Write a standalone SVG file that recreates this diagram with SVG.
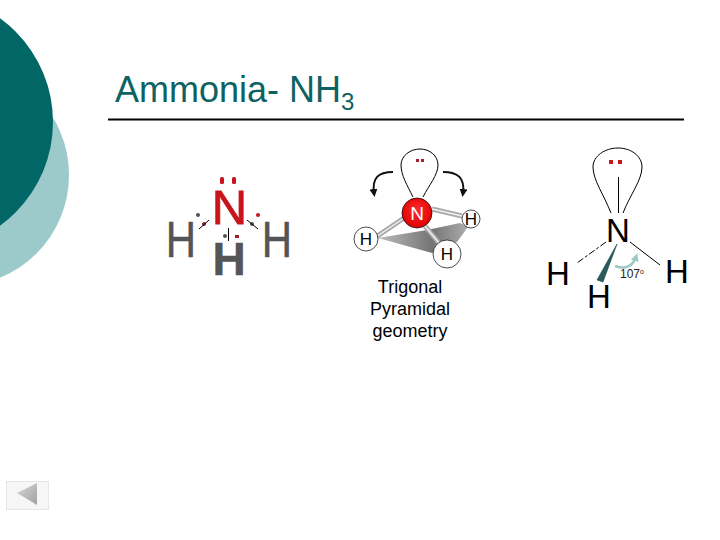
<svg xmlns="http://www.w3.org/2000/svg" width="720" height="540" viewBox="0 0 720 540">
<style>
text{font-family:"Liberation Sans",Arial,sans-serif}
.h{fill:#555;stroke:#555;stroke-width:.5}
.bl{fill:#000}
.ln{fill:none;stroke:#000;stroke-width:1}
.red{fill:#c8141c}
.atom{fill:#fff;stroke:#000;stroke-width:.7}
.bond{fill:none;stroke:#a8a8a8;stroke-width:5}
.bondh{fill:none;stroke:#f2f2f2;stroke-width:1.500}
</style>
<defs>
<linearGradient id="plane" x1="0" y1="0" x2="1" y2="0"><stop offset="0" stop-color="#bcbcbc"/><stop offset="0.6" stop-color="#757575"/><stop offset="1" stop-color="#adadad"/></linearGradient>
<radialGradient id="nball" cx="0.5" cy="0.4" r="0.6"><stop offset="0" stop-color="#ff2a2a"/><stop offset="1" stop-color="#e00000"/></radialGradient>
<linearGradient id="back" x1="0" y1="0" x2="1" y2="1"><stop offset="0" stop-color="#d8d8d8"/><stop offset="1" stop-color="#a0a0a0"/></linearGradient>
<marker id="ah" markerWidth="8" markerHeight="8" refX="4" refY="4" orient="auto" markerUnits="userSpaceOnUse"><path d="M0 0L8 4L0 8Z" fill="#111"/></marker>
<marker id="ta" markerWidth="8" markerHeight="8" refX="4" refY="4" orient="auto" markerUnits="userSpaceOnUse"><path d="M0 0L8 4L0 8Z" fill="#9cc8c8"/></marker>
</defs>
<rect width="720" height="540" fill="#fff"/>
<g id="background">
<circle cx="-42" cy="175" r="111" fill="#9ccaca"/>
<circle cx="-75" cy="122" r="128" fill="#006666"/>
</g>
<g id="title">
<text x="115" y="102" font-size="36" fill="#0f6262">Ammonia- NH<tspan font-size="24" dy="8">3</tspan></text>
<rect x="108" y="118.500" width="576" height="2" fill="#000"/>
</g>
<g id="lewis">
<g id="lewis-n"><text transform="translate(229.500 224)" text-anchor="middle" font-size="49" class="red" stroke="#c8141c" stroke-width=".8">N</text>
<rect x="220" y="177" width="4" height="7" rx="1.500" class="red"/><rect x="232" y="177" width="4" height="7" rx="1.500" class="red"/></g>
<g id="lewis-h1"><text transform="translate(181 257) scale(.84 1)" text-anchor="middle" font-size="50" class="h">H</text></g>
<g id="lewis-h2"><text transform="translate(277 257) scale(.84 1)" text-anchor="middle" font-size="50" class="h">H</text></g>
<g id="lewis-h3"><text x="229" y="275" text-anchor="middle" font-size="46" font-weight="700" class="h">H</text></g>
<circle cx="198" cy="215" r="2" fill="#555"/>
<circle cx="204" cy="224" r="2" fill="#a02030"/>
<circle cx="258" cy="215" r="2" fill="#c8141c"/>
<circle cx="252" cy="224" r="2" fill="#555"/>
<circle cx="225" cy="236" r="2" fill="#555"/>
<rect x="235" y="235" width="4" height="3" fill="#a02030"/>
</g>
<g id="plane">
<path d="M378 238L432 253L457 242L468 227L460 223L427 230Z" fill="url(#plane)"/>
</g>
<g id="connectors">
<path class="ln" d="M199 229L209 220"/>
<path class="ln" d="M247 220L258 229"/>
<path class="ln" d="M228.500 228V241"/>
<path class="ln" d="M413 197C407 185 401 175 401 165C401 156 410 149 420 149C430 149 438 156 438 165C438 175 429 185 423 197"/>
<path d="M393 172C378 172 372 178 374 193" fill="none" stroke="#111" stroke-width="2" marker-end="url(#ah)"/>
<path d="M443 172C458 172 465 178 463 193" fill="none" stroke="#111" stroke-width="2" marker-end="url(#ah)"/>
<path class="bond" d="M404 218L376 237"/><path class="bondh" d="M404 218L376 237"/>
<path class="bond" d="M432 209L462 216"/><path class="bondh" d="M432 209L462 216"/>
<path class="bond" d="M425 226L439 243"/><path class="bondh" d="M425 226L439 243"/>
<path class="ln" d="M611 213C604 195 593 180 593 167C593 156 605 148 618 148C631 148 642 156 642 167C642 180 630 195 623 213"/>
<path class="ln" d="M618.500 177V213"/>
<path class="ln" d="M606 242L577 263" stroke-dasharray="7 2 3 2"/>
<path class="ln" d="M630 242L660 265"/>
<path d="M617 244L597 280L603 282Z" fill="#2a5a5a" stroke="#1c4a4a" stroke-width=".6"/>
<path d="M615 266C625 270 633 266 636 257" fill="none" stroke="#9cc8c8" stroke-width="2.500" marker-end="url(#ta)"/>
</g>
<g id="ball-n"><circle class="atom" cx="417" cy="213" r="15" style="fill:url(#nball)"/><text x="417" y="220" text-anchor="middle" font-size="19" fill="#fff">N</text></g>
<g id="ball-h1"><circle class="atom" cx="366" cy="239" r="12"/><text x="366" y="245" text-anchor="middle" font-size="17">H</text></g>
<g id="ball-h2"><circle class="atom" cx="471" cy="219" r="9"/><text x="471" y="225" text-anchor="middle" font-size="17">H</text></g>
<g id="ball-h3"><circle class="atom" cx="447" cy="254" r="14"/><text x="447" y="260" text-anchor="middle" font-size="17">H</text></g>
<g id="ball-lone"><rect x="416" y="159" width="3" height="3" fill="#a02030"/><rect x="421" y="159" width="3" height="3" fill="#a02030"/></g>
<g id="caption" font-size="18" text-anchor="middle" fill="#000">
<text x="410" y="293">Trigonal</text>
<text x="410" y="315">Pyramidal</text>
<text x="410" y="337">geometry</text>
</g>
<g id="struct-lone"><rect x="609" y="160" width="4" height="4" fill="#c8141c"/><rect x="618" y="160" width="4" height="4" fill="#c8141c"/></g>
<g id="struct-n"><text x="618" y="242" text-anchor="middle" font-size="33" class="bl">N</text></g>
<g id="struct-h1"><text x="558" y="285" text-anchor="middle" font-size="33" class="bl">H</text></g>
<g id="struct-h2"><text x="677" y="283" text-anchor="middle" font-size="33" class="bl">H</text></g>
<g id="struct-h3"><text x="599" y="308" text-anchor="middle" font-size="33" class="bl">H</text></g>
<g id="angle"><text x="620" y="278" font-size="12" fill="#222">107<tspan font-size="7" dy="-4">o</tspan></text></g>
<g id="back-button">
<rect x="6.500" y="481.500" width="42" height="28" fill="#f6f6f6" stroke="#e6e6e6"/>
<path d="M17 493L37 483V505Z" fill="url(#back)"/>
</g>
</svg>
